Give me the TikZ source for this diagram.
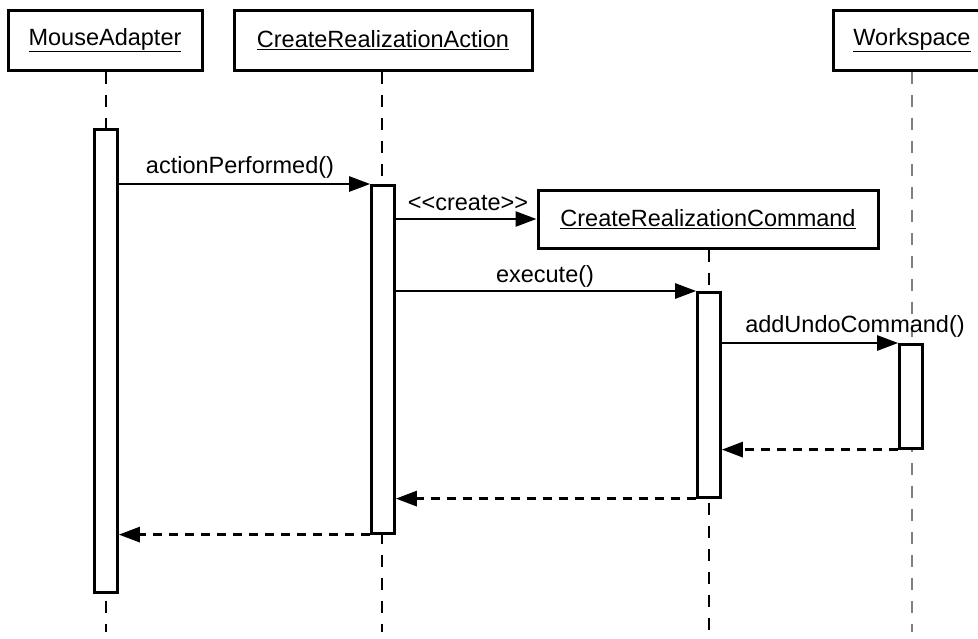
\documentclass[tikz,border=0pt]{standalone}
\usepackage{fontspec}
\setmainfont{Liberation Sans}
\usetikzlibrary{arrows.meta}
\begin{document}
\begin{tikzpicture}[x=1pt,y=-1pt,
  txt/.style={font=\fontsize{23.5}{27}\selectfont, inner sep=0pt},
  header/.style={draw, line width=3pt, fill=white, inner sep=0pt, minimum height=60pt, font=\fontsize{23.5}{27}\selectfont},
  actbar/.style={draw, line width=2.6pt, fill=white, inner sep=0pt, minimum width=23pt},
  lifeline/.style={line width=1.5pt, dash pattern=on 12pt off 11pt},
  msg/.style={line width=2.5pt, -{Triangle[length=21pt,width=15pt]}},
  ret/.style={line width=2.8pt, dash pattern=on 9pt off 7pt, -{Triangle[length=21pt,width=15pt]}}
]
\useasboundingbox (0,0) rectangle (978,638);
\clip (0,0) rectangle (978,638);
\fill[white] (0,0) rectangle (978,638);

% headers
\node[header, minimum width=194pt] (ma) at (105,40) {\underline{MouseAdapter}};
\node[header, minimum width=298pt] (cra) at (383,40) {\underline{CreateRealizationAction}};
\node[header, minimum width=158pt] (ws) at (912,40) {\underline{Workspace}};
\node[header, minimum width=340pt, minimum height=58pt] (crc) at (708,219) {\underline{CreateRealizationCommand}};

% lifeline ends
\coordinate (maEnd) at (106,632);
\coordinate (craEnd) at (382,632);
\coordinate (crcEnd) at (709,632);
\coordinate (wsEnd) at (912,632);

% lifelines
\draw[lifeline] (ma.south -| maEnd) -- (maEnd);
\draw[lifeline] (cra.south -| craEnd) -- (craEnd);
\draw[lifeline] (crc.south -| crcEnd) -- (crcEnd);
\draw[lifeline, gray] (ws.south -| wsEnd) -- (wsEnd);

% activation bars
\node[actbar, anchor=north, minimum height=463pt] (maBar) at (106,128) {};
\node[actbar, anchor=north, minimum height=348pt] (craBar) at (383,184) {};
\node[actbar, anchor=north, minimum height=205pt] (crcBar) at (709,291) {};
\node[actbar, anchor=north, minimum height=104pt] (wsBar) at (911,343) {};

% messages
\draw[msg] (maBar.east |- craBar.north) -- (craBar.north west);
\node[txt, anchor=base] (l1) at (240,173) {actionPerformed()};

\draw[msg] (craBar.east |- crc.west) -- (crc.west);
\node[txt, anchor=base] (l2) at (468,210) {{<}{<}create{>}{>}};

\draw[msg] (craBar.east |- crcBar.north) -- (crcBar.north west);
\node[txt, anchor=base] (l3) at (545,282) {execute()};

\draw[msg] (crcBar.east |- wsBar.north) -- (wsBar.north west);
\node[txt, anchor=base] (l4) at (855,332) {addUndoCommand()};

% returns
\draw[ret] (wsBar.south west) -- (crcBar.east |- wsBar.south);
\draw[ret] (crcBar.south west) -- (craBar.east |- crcBar.south);
\draw[ret] (craBar.south west) -- (maBar.east |- craBar.south);
\end{tikzpicture}
\end{document}
